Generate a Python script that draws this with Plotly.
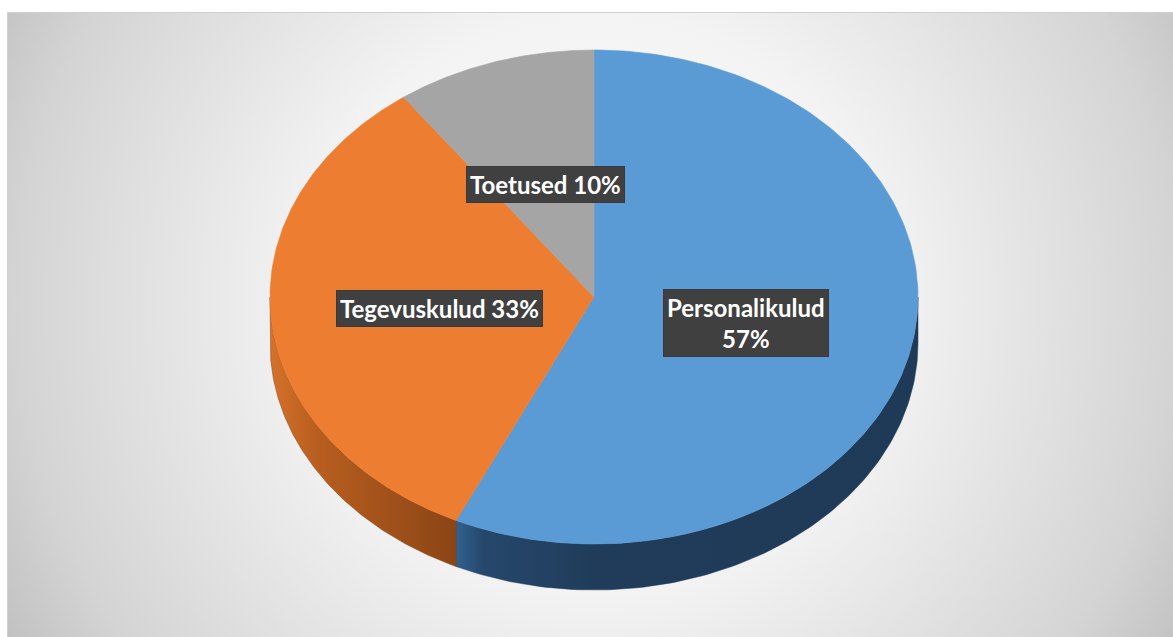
import base64
import numpy as np
import plotly.graph_objects as go

# ---- data ----
categories = ["Personalikulud", "Tegevuskulud", "Toetused"]
values = [57, 33, 10]
label_sep = ["<br>", " ", " "]

# ---- style ----
top_colors = ["#5B9BD5", "#ED7D31", "#A5A5A5"]
side_scales = [
    [[0, "#31618f"], [0.06, "#26476c"], [0.3, "#203c5a"], [1, "#1f3a57"]],
    [[0, "#d4722a"], [0.25, "#b85e1f"], [1, "#8b4515"]],
    [[0, "#7c7c7c"], [1, "#5f5f5f"]],
]
W, H = 1173, 637
cx, cy, rx, ry, depth = 594, 297, 324, 247, 46
label_r = 0.48

fig = go.Figure()

# background gradient (chart area)
svg = f'''<svg xmlns="http://www.w3.org/2000/svg" width="1166" height="625" viewBox="0 0 1166 625" preserveAspectRatio="none">
<defs><radialGradient id="g" gradientUnits="userSpaceOnUse" cx="590" cy="290" r="690">
<stop offset="0" stop-color="#ffffff"/><stop offset="0.42" stop-color="#f3f3f3"/>
<stop offset="0.84" stop-color="#d4d4d4"/><stop offset="1" stop-color="#bfbfbf"/>
</radialGradient></defs><rect x="0" y="0" width="1166" height="625" fill="url(#g)"/></svg>'''
src = "data:image/svg+xml;base64," + base64.b64encode(svg.encode()).decode()

# pie geometry from values
total = sum(values)
angles = [90.0]
for v in values:
    angles.append(angles[-1] - 360.0 * v / total)

# sides
for i, v in enumerate(values):
    a0, a1 = angles[i], angles[i + 1]
    hi, lo = min(a0, 0.0), max(a1, -180.0)
    if hi <= lo:
        continue
    th = np.radians(np.linspace(hi, lo, 120))
    xt = cx + rx * np.cos(th)
    yt = cy - ry * np.sin(th)
    xs = np.concatenate([xt, xt[::-1], xt[:1]])
    ys = np.concatenate([yt, yt[::-1] + depth, yt[:1]])
    fig.add_trace(go.Scatter(
        x=xs, y=ys, mode="lines", fill="toself",
        line=dict(width=0.5, color=side_scales[i][-1][1]),
        fillgradient=dict(type="horizontal", colorscale=side_scales[i]),
        hoverinfo="skip", showlegend=False))

# top faces
for i, v in enumerate(values):
    a0, a1 = angles[i], angles[i + 1]
    th = np.radians(np.linspace(a0, a1, 200))
    xs = np.concatenate([[cx], cx + rx * np.cos(th), [cx]])
    ys = np.concatenate([[cy], cy - ry * np.sin(th), [cy]])
    fig.add_trace(go.Scatter(
        x=xs, y=ys, mode="lines", fill="toself", fillcolor=top_colors[i],
        line=dict(width=0.6, color=top_colors[i]),
        hoverinfo="skip", showlegend=False, name=categories[i]))

# labels
annotations = []
for i, v in enumerate(values):
    mid = np.radians((angles[i] + angles[i + 1]) / 2)
    lx = cx + label_r * rx * np.cos(mid)
    ly = cy - label_r * ry * np.sin(mid)
    txt = f"<b>{categories[i]}{label_sep[i]}{v}%</b>"
    annotations.append(dict(x=lx, y=ly, xref="x", yref="y", text=txt, showarrow=False,
                            borderpad=3, align="center", bgcolor="#404040",
                            bordercolor="#3a3a3a", borderwidth=1,
                            font=dict(family="Lato", size=24, color="#ffffff")))

shapes = []
# soft shadow under pie
for k in range(8):
    g = 3 + k * 2.5
    shapes.append(dict(type="circle", xref="x", yref="y", layer="below",
                       x0=cx - rx - g, x1=cx + rx + g,
                       y0=cy - ry + depth * 0.7 - g * 0.5, y1=cy + ry + depth + g,
                       fillcolor="rgba(0,0,0,0.035)", line=dict(width=0)))
# chart border
shapes.append(dict(type="rect", xref="x", yref="y", x0=7.5, x1=W + 2, y0=12.5, y1=H + 2,
                   line=dict(color="#cfcfcf", width=1), fillcolor="rgba(0,0,0,0)", layer="above"))

fig.update_layout(
    width=W, height=H, margin=dict(l=0, r=0, t=0, b=0),
    paper_bgcolor="#ffffff", plot_bgcolor="rgba(0,0,0,0)",
    xaxis=dict(range=[0, W], visible=False, fixedrange=True),
    yaxis=dict(range=[H, 0], visible=False, fixedrange=True),
    images=[dict(source=src, xref="x", yref="y", x=7, y=12, sizex=W - 7, sizey=H - 12,
                 xanchor="left", yanchor="top", sizing="stretch", layer="below")],
    shapes=shapes, annotations=annotations, showlegend=False,
)

fig.write_html("out.html")
